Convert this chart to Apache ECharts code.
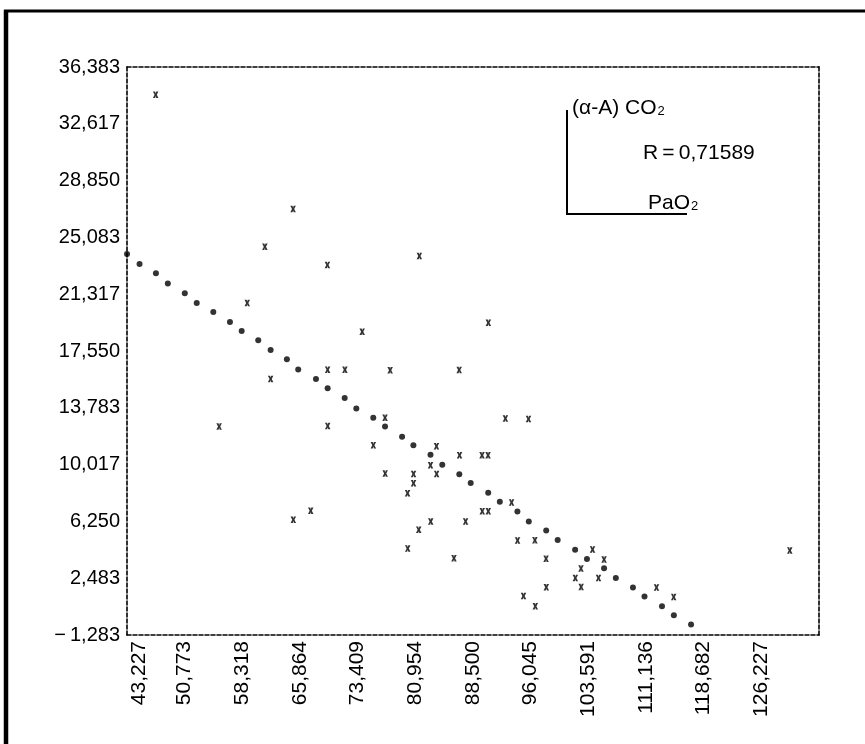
<!DOCTYPE html>
<html>
<head>
<meta charset="utf-8">
<script src="https://cdn.jsdelivr.net/npm/echarts@6/dist/echarts.min.js"></script>
<style>
html,body{margin:0;padding:0;background:#fff;}
#chart{width:865px;height:744px;}
</style>
</head>
<body>
<div id="chart"></div>
<script>
// Axis ticks
var xMin = 43.227, xStep = 7.5455, xMax = 133.773;
var yMin = -1.283, yStep = 3.7666, yMax = 36.383;
var xTickLabels = ['43,227','50,773','58,318','65,864','73,409','80,954','88,500','96,045','103,591','111,136','118,682','126,227'];
var yTickLabels = ['\u2212\u20091,283','2,483','6,250','10,017','13,783','17,550','21,317','25,083','28,850','32,617','36,383'];

// Regression line points (filled dots)
var regX = [43.23, 44.87, 47.01, 48.57, 50.79, 52.35, 54.52, 56.70, 58.23, 60.40, 62.02, 64.15, 65.63, 67.95, 69.48, 71.71, 73.23, 75.45, 76.99, 79.22, 80.70, 82.94, 84.48, 86.71, 88.20, 90.49, 92.01, 94.31, 95.80, 98.08, 99.58, 101.86, 103.41, 105.65, 107.19, 109.43, 110.94, 113.23, 114.78, 117.03];
var regY = [23.98, 23.32, 22.70, 22.02, 21.38, 20.74, 20.13, 19.47, 18.88, 18.27, 17.61, 17.00, 16.33, 15.69, 15.08, 14.43, 13.74, 13.13, 12.54, 11.87, 11.30, 10.67, 10.01, 9.38, 8.80, 8.15, 7.56, 6.91, 6.25, 5.64, 5.02, 4.37, 3.75, 3.15, 2.50, 1.87, 1.27, 0.62, 0.02, -0.59];

// Observed points (x markers): PaO2 vs (a-A) CO2
var obsX = [46.98, 64.96, 61.27, 69.45, 81.48, 58.96, 62.02, 55.28, 64.99, 90.51, 74.00, 69.48, 71.74, 77.66, 86.69, 76.99, 69.49, 92.74, 95.76, 75.46, 83.72, 86.74, 89.68, 90.47, 82.94, 77.01, 80.72, 83.74, 80.72, 79.94, 93.55, 67.27, 89.71, 90.50, 82.97, 87.53, 81.40, 79.96, 94.33, 96.60, 86.01, 104.14, 98.06, 105.65, 102.63, 101.89, 104.92, 98.09, 102.65, 112.51, 95.11, 114.76, 96.65, 129.95];
var obsY = [34.54, 26.96, 24.47, 23.25, 23.85, 20.74, 15.70, 12.54, 6.36, 19.42, 18.82, 16.30, 16.31, 16.28, 16.29, 13.12, 12.58, 13.07, 13.04, 11.30, 11.24, 10.64, 10.63, 10.63, 9.98, 9.42, 9.40, 9.39, 8.78, 8.11, 7.50, 6.95, 6.92, 6.92, 6.25, 6.25, 5.69, 4.45, 4.99, 5.00, 3.81, 4.38, 3.77, 3.72, 3.13, 2.49, 2.50, 1.89, 1.90, 1.87, 1.31, 1.24, 0.63, 4.32];

var yLabelText = '(\u03b1-A) CO';
var rText = 'R\u2009=\u20090,71589';
var xLabelText = 'PaO';

var FONT = '"Liberation Sans", Arial, Helvetica, sans-serif';

function xFmt(v){
  var k = Math.round((v - xMin) / xStep);
  if (Math.abs(v - (xMin + k * xStep)) > 1e-3) return '';
  var t = xTickLabels[k] || '';
  if (!t) return '';
  return k === 0 ? '{f|' + t + '}' : '{n|' + t + '}';
}
function yFmt(v){
  var k = Math.round((v - yMin) / yStep);
  if (Math.abs(v - (yMin + k * yStep)) > 1e-3) return '';
  return yTickLabels[k] || '';
}

var dashed = {color:'#000', type:[4,2], width:1.6};

var chart = echarts.init(document.getElementById('chart'), null, {renderer:'canvas'});
chart.setOption({
  animation:false,
  backgroundColor:'#fff',
  grid:{left:127, right:46, top:67, bottom:109, containLabel:false},
  xAxis:[{
    type:'value', min:xMin, max:xMax, interval:xStep, position:'bottom',
    axisLine:{show:true, onZero:false, lineStyle:dashed},
    axisTick:{show:false}, splitLine:{show:false},
    axisLabel:{rotate:90, margin:6, fontSize:21, color:'#000', fontFamily:FONT, formatter:xFmt,
      rich:{
        n:{fontSize:21, fontFamily:FONT, color:'#000'},
        f:{fontSize:21, fontFamily:FONT, color:'#000', padding:[24,0,0,0]}
      }}
  },{
    type:'value', min:xMin, max:xMax, interval:xStep, position:'top',
    axisLine:{show:true, onZero:false, lineStyle:dashed},
    axisTick:{show:false}, splitLine:{show:false}, axisLabel:{show:false}
  }],
  yAxis:[{
    type:'value', min:yMin, max:yMax, interval:yStep, position:'left',
    axisLine:{show:true, onZero:false, lineStyle:dashed},
    axisTick:{show:false}, splitLine:{show:false},
    axisLabel:{margin:7, fontSize:20, color:'#000', fontFamily:FONT, formatter:yFmt}
  },{
    type:'value', min:yMin, max:yMax, interval:yStep, position:'right',
    axisLine:{show:true, onZero:false, lineStyle:dashed},
    axisTick:{show:false}, splitLine:{show:false}, axisLabel:{show:false}
  }],
  series:[{
    type:'scatter', xAxisIndex:0, yAxisIndex:0,
    data: regX.map(function(x,i){return [x, regY[i]];}),
    symbol:'circle', symbolSize:6,
    itemStyle:{color:'#000'}
  },{
    type:'scatter', xAxisIndex:0, yAxisIndex:0,
    data: obsX.map(function(x,i){return [x, obsY[i]];}),
    symbol:'path://M0,0L4,0L5,3L6,0L10,0L7,5L10,10L6,10L5,7L4,10L0,10L3,5Z',
    symbolSize:[5.5,6.5],
    itemStyle:{color:'#000'}
  }],
  graphic:[
    {type:'line', shape:{x1:6, y1:10, x2:6, y2:744}, style:{stroke:'#000', lineWidth:4.5}},
    {type:'line', shape:{x1:4, y1:11, x2:865, y2:11}, style:{stroke:'#000', lineWidth:3}},
    {type:'polyline', shape:{points:[[567,110],[567,214],[687,214]]}, style:{stroke:'#000', lineWidth:2, fill:null}},
    {type:'text', x:572, y:108, style:{text:'{a|'+yLabelText+'}{s|2}', verticalAlign:'middle', fill:'#000',
      rich:{a:{fontSize:21, fontFamily:FONT, fill:'#000'}, s:{fontSize:13, fontFamily:FONT, fill:'#000', verticalAlign:'bottom', padding:[0,0,1,1]}}}},
    {type:'text', x:643, y:153, style:{text:rText, verticalAlign:'middle', fill:'#000', font:'21px '+FONT}},
    {type:'text', x:648, y:203, style:{text:'{a|'+xLabelText+'}{s|2}', verticalAlign:'middle', fill:'#000',
      rich:{a:{fontSize:21, fontFamily:FONT, fill:'#000'}, s:{fontSize:13, fontFamily:FONT, fill:'#000', verticalAlign:'bottom', padding:[0,0,1,1]}}}}
  ]
});
</script>
</body>
</html>
